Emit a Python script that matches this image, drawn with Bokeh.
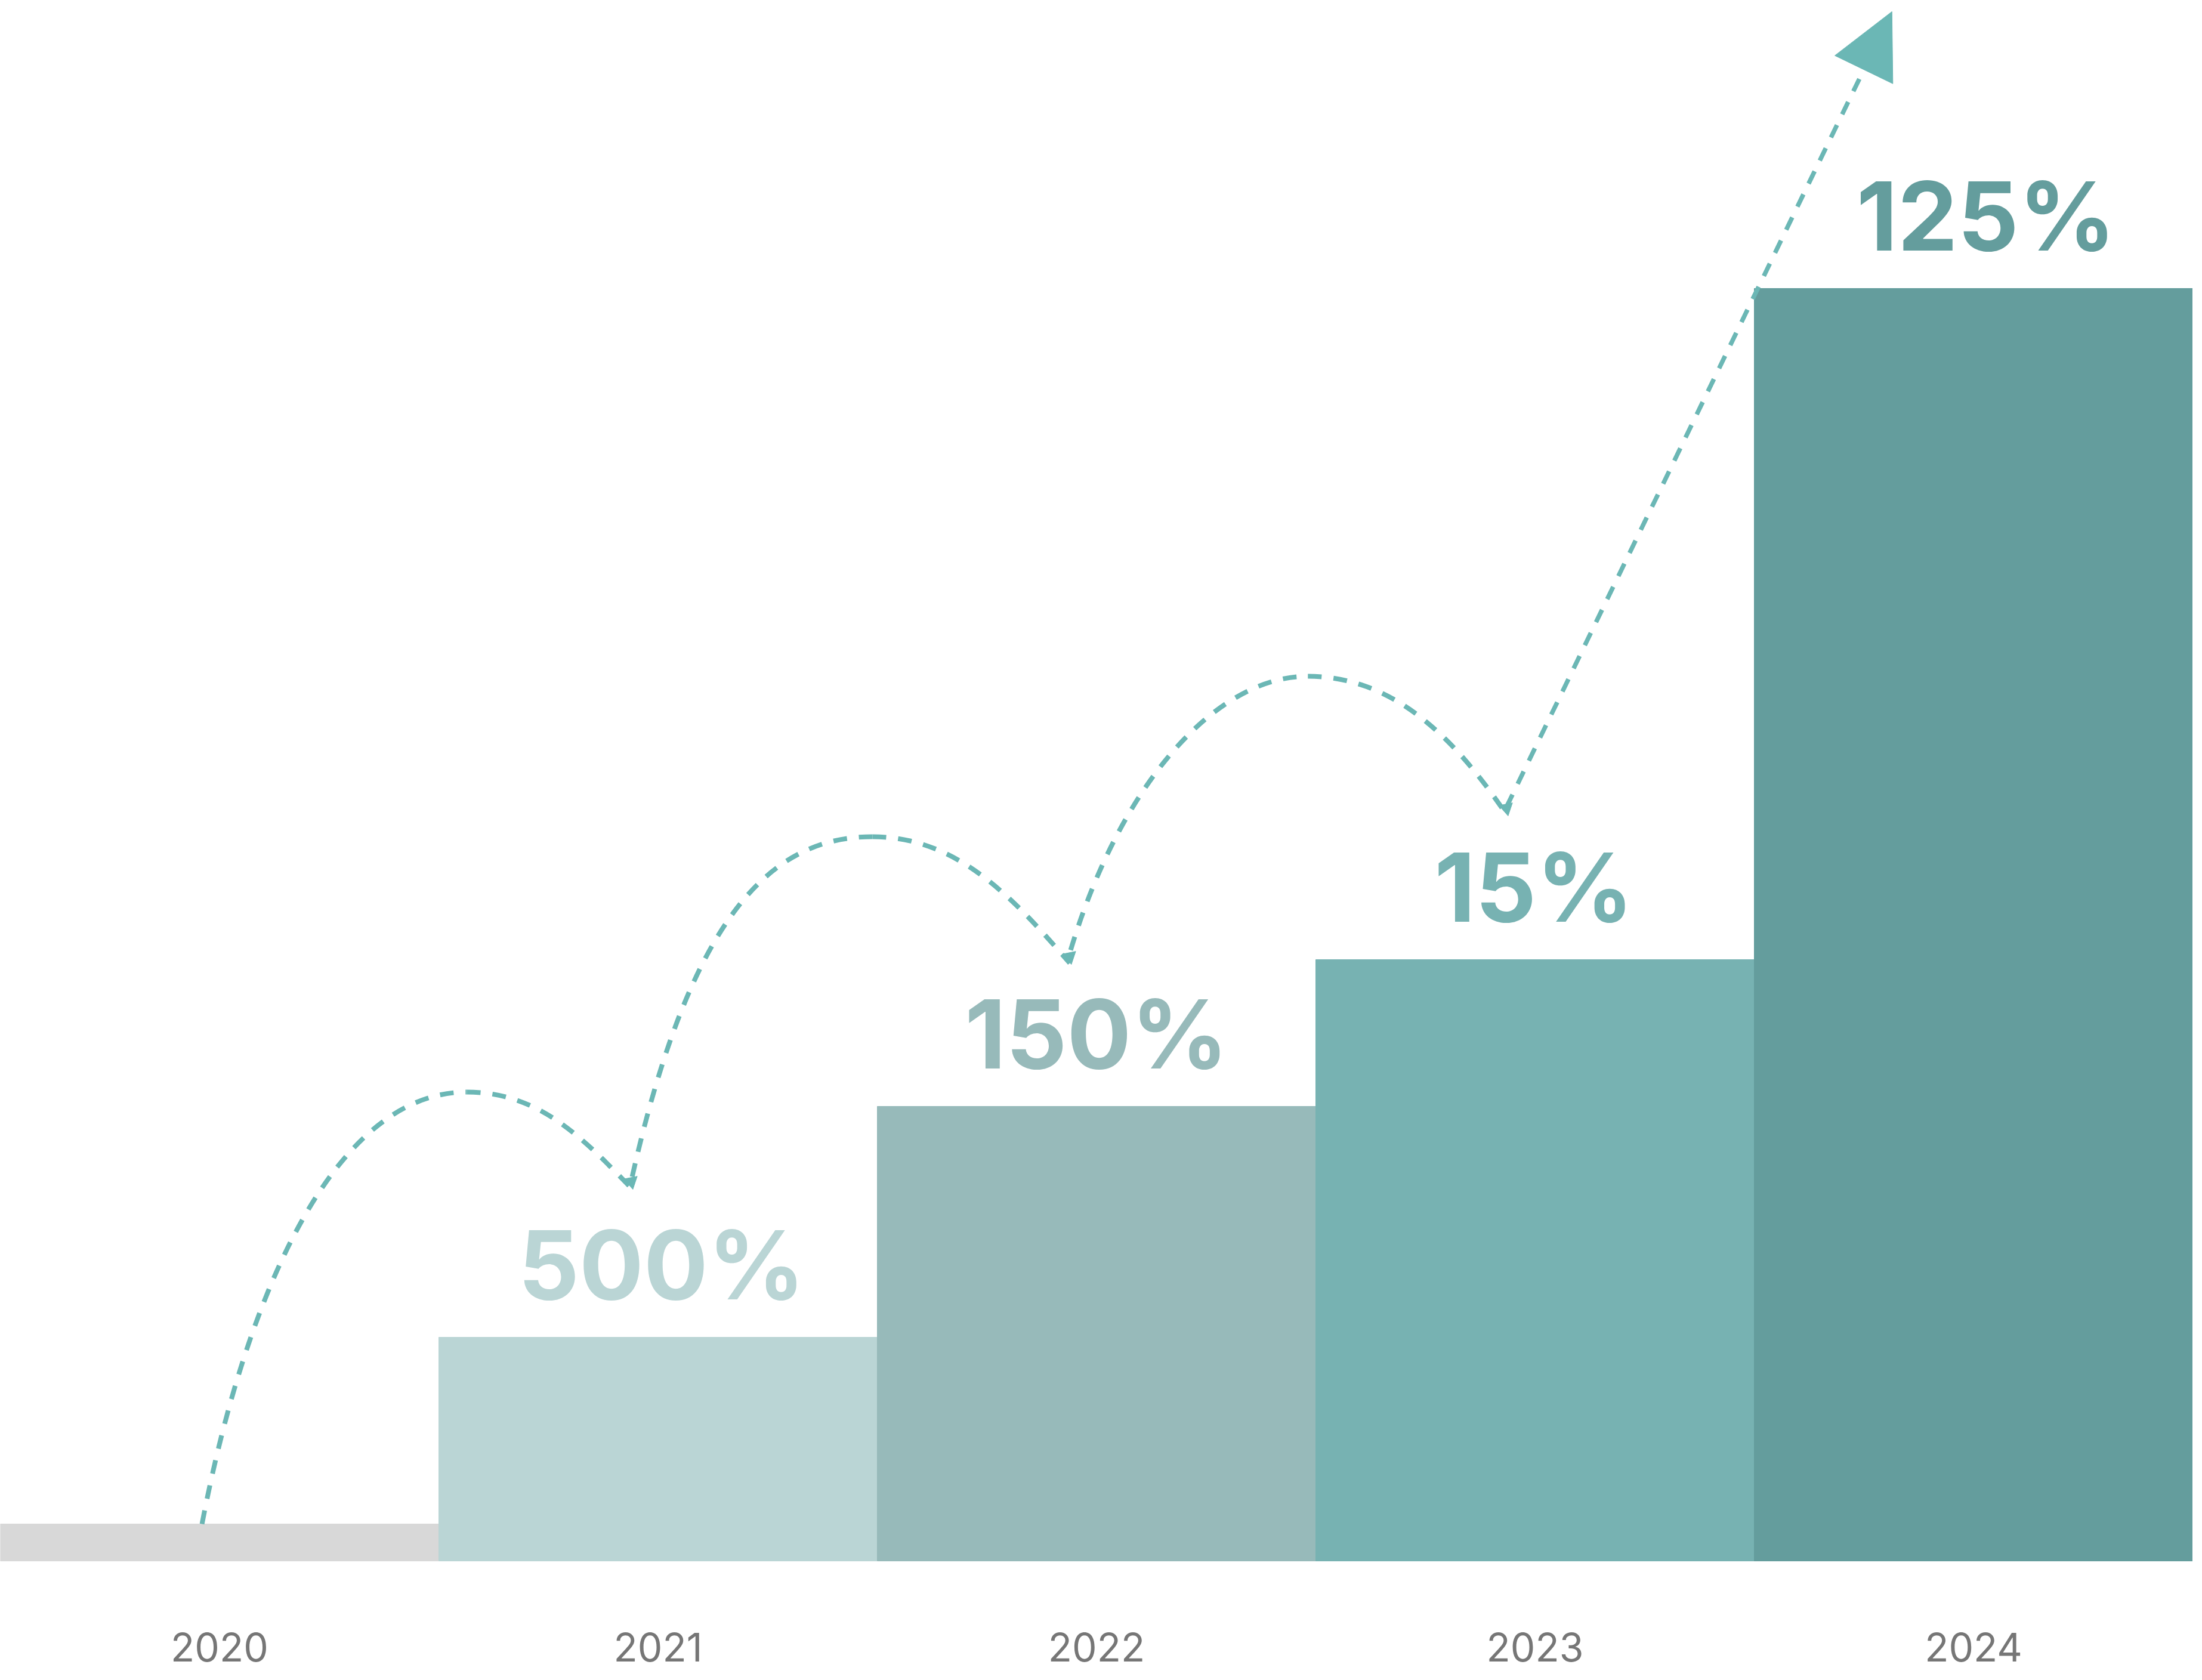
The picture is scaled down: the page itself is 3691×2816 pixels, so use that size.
from bokeh.plotting import figure
from bokeh.models import Range1d, ColumnDataSource, Arrow, NormalHead
from bokeh.core.properties import value
from bokeh.embed import file_html
from bokeh.resources import INLINE

# ---- data ----
years = ["2020", "2021", "2022", "2023", "2024"]
values = [62, 375, 762, 1008, 2133]
growth_labels = ["", "500%", "150%", "15%", "125%"]
bar_colors = ["#d8d8d8", "#bad5d5", "#97baba", "#77b2b2", "#649d9d"]

# dashed "bounce" path (cubic bezier pieces) in data units
arc_x0 = [-0.040, 0.564, 0.941, 1.489, 1.941, 2.482]
arc_y0 = [62, 786, 644, 1214, 1024, 1483]
arc_cx0 = [0.063, 0.727, 1.076, 1.680, 2.059, 2.673]
arc_cy0 = [455, 786, 1083, 1214, 1311, 1483]
arc_cx1 = [0.265, 0.826, 1.258, 1.806, 2.278, 2.813]
arc_cy1 = [786, 711, 1214, 1115, 1483, 1384]
arc_x1 = [0.564, 0.939, 1.489, 1.939, 2.482, 2.935]
arc_y1 = [786, 625, 1214, 1002, 1483, 1251]

# landing arrow tips
tip_x = [0.939, 1.939, 2.935]
tip_y = [625, 1002, 1251]

# final rising arrow
final_start = (2.935, 1264)
final_end = (3.814, 2597)

LINE_COLOR = "#6bb7b5"
label_dx = [0, 6, 0, -2, 21]   # small horizontal nudges of the % labels (px)

p = figure(width=3675, height=2800,
           x_range=Range1d(-0.5, 4.5), y_range=Range1d(-184, 2616),
           output_backend="svg", toolbar_location=None, min_border=0)
p.xaxis.visible = False
p.yaxis.visible = False
p.grid.visible = False
p.outline_line_color = None
p.background_fill_color = "white"
p.border_fill_color = "white"

idx = list(range(len(years)))
src = ColumnDataSource(dict(x=idx, top=values, color=bar_colors,
                            year=years, label=growth_labels, dx=label_dx))

p.vbar(x="x", top="top", bottom=0, width=1.0, fill_color="color",
       line_color="color", line_width=1, source=src)

# dashed arcs
p.bezier(x0=arc_x0, y0=arc_y0, x1=arc_x1, y1=arc_y1,
         cx0=arc_cx0, cy0=arc_cy0, cx1=arc_cx1, cy1=arc_cy1,
         line_color=LINE_COLOR, line_width=8, line_dash="23 20")

# small landing arrowheads
p.scatter(x=tip_x, y=[v + 11 for v in tip_y], marker="inverted_triangle",
          size=23, angle=0.2, fill_color=LINE_COLOR, line_color=LINE_COLOR)

# final arrow
p.add_layout(Arrow(end=NormalHead(size=108, fill_color=LINE_COLOR,
                                  line_color=LINE_COLOR, line_width=1),
                   x_start=final_start[0], y_start=final_start[1],
                   x_end=final_end[0], y_end=final_end[1],
                   line_color=LINE_COLOR, line_width=7.5, line_dash="23 20"))

# growth labels
p.text(x="x", y="top", text="label", source=src, x_offset="dx",
       text_color="color", text_font=value("Inter"), text_font_style="bold",
       text_font_size="160px", text_align="center",
       text_baseline="alphabetic", y_offset=-122)

# year labels
p.text(x="x", y=0, text="year", source=src,
       text_color="#767676", text_font=value("Inter"),
       text_font_size="66px", text_align="center",
       text_baseline="alphabetic", y_offset=144)

open("out.html", "w").write(file_html(p, INLINE))
